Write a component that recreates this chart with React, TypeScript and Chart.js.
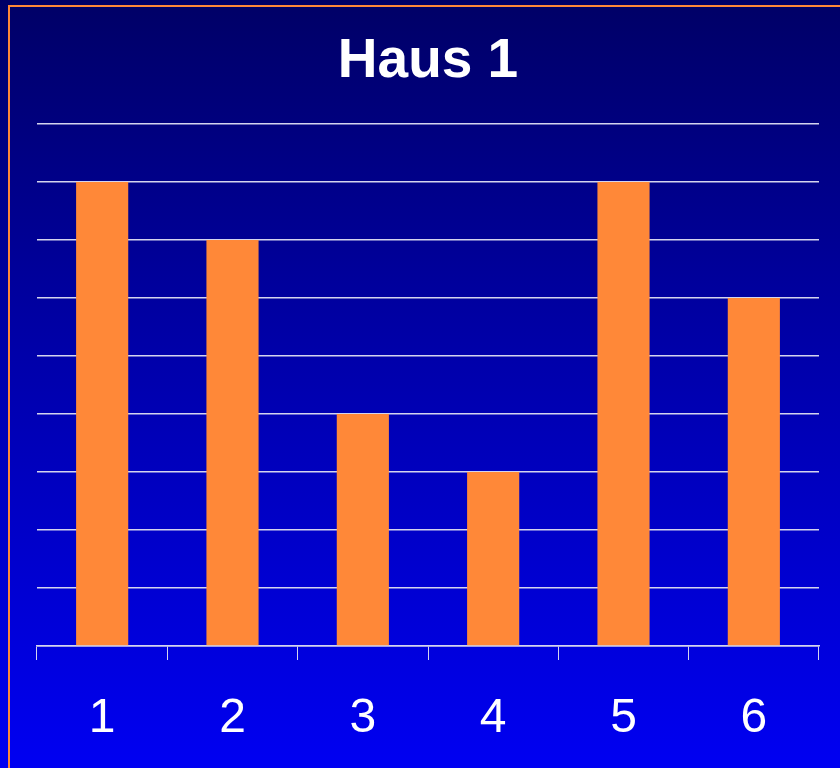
import React, { useEffect, useRef } from "react";
import { Chart, registerables } from "chart.js";

Chart.register(...registerables);

const TITLE = "Haus 1";
const CATEGORIES = ["1", "2", "3", "4", "5", "6"];
const VALUES = [8, 7, 4, 3, 8, 6];
const Y_MAX = 9;

export default function App() {
  const canvasRef = useRef<HTMLCanvasElement | null>(null);

  useEffect(() => {
    const canvas = canvasRef.current;
    if (!canvas) return;
    const gridColor = "#d4d4ee";
    const chart = new Chart(canvas, {
      type: "bar",
      data: {
        labels: CATEGORIES,
        datasets: [
          {
            data: VALUES,
            backgroundColor: "#ff8838",
            borderWidth: 0,
            barPercentage: 0.4,
            categoryPercentage: 1,
          },
        ],
      },
      options: {
        animation: false,
        responsive: false,
        maintainAspectRatio: false,
        layout: { padding: { left: 37, right: 21, top: 0, bottom: 0 } },
        plugins: {
          legend: { display: false },
          tooltip: { enabled: false },
          title: {
            display: true,
            text: TITLE,
            color: "#ffffff",
            font: { family: "'Liberation Sans', Arial, sans-serif", size: 55, weight: "bold", lineHeight: 1.2 },
            padding: { top: 29, bottom: 29 },
          },
        },
        scales: {
          x: {
            offset: true,
            grid: {
              display: true,
              drawOnChartArea: false,
              drawTicks: true,
              tickLength: 14,
              color: gridColor,
              lineWidth: 1,
              offset: true,
            },
            border: { display: true, color: gridColor, width: 1.5 },
            ticks: {
              color: "#ffffff",
              padding: 35,
              font: { family: "'Liberation Sans', Arial, sans-serif", size: 48, lineHeight: 1 },
            },
            afterFit: (scale: any) => {
              scale.height = 122;
            },
          },
          y: {
            min: 0,
            max: Y_MAX,
            ticks: { display: false, stepSize: 1 },
            border: { display: false },
            grid: { color: gridColor, lineWidth: 1.5, drawTicks: false },
            afterFit: (scale: any) => {
              scale.width = 0;
            },
          },
        },
      },
    });
    return () => chart.destroy();
  }, []);

  return (
    <div
      style={{
        position: "fixed",
        left: 0,
        top: 0,
        width: 840,
        height: 768,
        overflow: "hidden",
        background: "linear-gradient(to bottom, #000066 0%, #0000a8 45%, #0000f2 100%)",
      }}
    >
      <div
        style={{
          position: "absolute",
          left: 8,
          top: 5,
          width: 900,
          height: 900,
          border: "2px solid #ff8838",
          boxSizing: "border-box",
        }}
      />
      <canvas
        ref={canvasRef}
        width={840}
        height={768}
        style={{ position: "absolute", left: 0, top: 0, width: 840, height: 768 }}
      />
    </div>
  );
}
